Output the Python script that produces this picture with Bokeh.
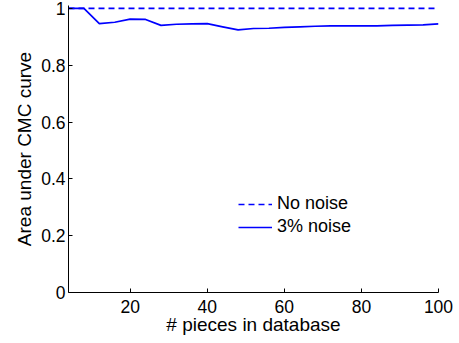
from bokeh.plotting import figure
from bokeh.models import Range1d, FixedTicker, Legend, LegendItem
from bokeh.embed import file_html
from bokeh.resources import INLINE

pieces = [4, 8, 12, 16, 20, 24, 28, 32, 36, 40, 44, 48, 52, 56, 60, 64, 68, 72, 76, 80, 84, 88, 92, 96, 100]
no_noise = [1.0] * 25
noise3 = [1.0, 1.0, 0.946, 0.951, 0.962, 0.961, 0.940, 0.944, 0.945, 0.946, 0.935, 0.924, 0.929,
          0.930, 0.933, 0.935, 0.937, 0.938, 0.938, 0.938, 0.938, 0.940, 0.941, 0.942, 0.945]
x_ticks = [20, 40, 60, 80, 100]
y_ticks = [0, 0.2, 0.4, 0.6, 0.8, 1]
y_tick_labels = ["0", "0.2", "0.4", "0.6", "0.8", "1"]
series_labels = ["No noise", "3% noise"]

FONT = "Liberation Sans"

p = figure(width=458, height=342, output_backend="svg", toolbar_location=None,
           x_range=Range1d(4, 100), y_range=Range1d(0, 1.01),
           min_border_left=68, min_border_right=20, min_border_top=5, min_border_bottom=50)
p.outline_line_color = None
p.xgrid.visible = False
p.ygrid.visible = False
p.background_fill_color = "white"
p.border_fill_color = "white"

r1 = p.line(pieces, no_noise, line_color="#0000ff", line_width=1.7, line_dash="6 4")
r2 = p.line(pieces, noise3, line_color="#0000ff", line_width=1.7)

for ax in (p.xaxis[0], p.yaxis[0]):
    ax.major_tick_in = 4
    ax.major_tick_out = 0
    ax.minor_tick_in = 0
    ax.minor_tick_out = 0
    ax.major_label_text_font = FONT
    ax.major_label_text_font_size = "17.5px"
    ax.major_label_text_color = "black"
    ax.axis_label_text_font = FONT
    ax.axis_label_text_font_size = "19px"
    ax.axis_label_text_font_style = "normal"
    ax.axis_label_text_color = "black"
    ax.axis_line_color = "black"
    ax.major_tick_line_color = "black"

p.xaxis[0].major_label_standoff = 7
p.yaxis[0].major_label_standoff = 3
p.xaxis[0].ticker = FixedTicker(ticks=x_ticks)
p.yaxis[0].ticker = FixedTicker(ticks=y_ticks)
p.yaxis[0].major_label_overrides = {t: l for t, l in zip(y_ticks, y_tick_labels)}
p.xaxis[0].axis_label = "# pieces in database"
p.yaxis[0].axis_label = "Area under CMC curve"
p.xaxis[0].axis_label_standoff = -2
p.yaxis[0].axis_label_standoff = 3

legend = Legend(items=[LegendItem(label=series_labels[0], renderers=[r1]),
                       LegendItem(label=series_labels[1], renderers=[r2])],
                location=(170, 55), padding=0, margin=0, spacing=2,
                glyph_width=34, glyph_height=20, label_height=20, label_standoff=5,
                border_line_color=None, background_fill_alpha=0,
                label_text_font=FONT, label_text_font_size="18px", label_text_color="black")
p.add_layout(legend, "center")

open("out.html", "w").write(file_html(p, INLINE))
